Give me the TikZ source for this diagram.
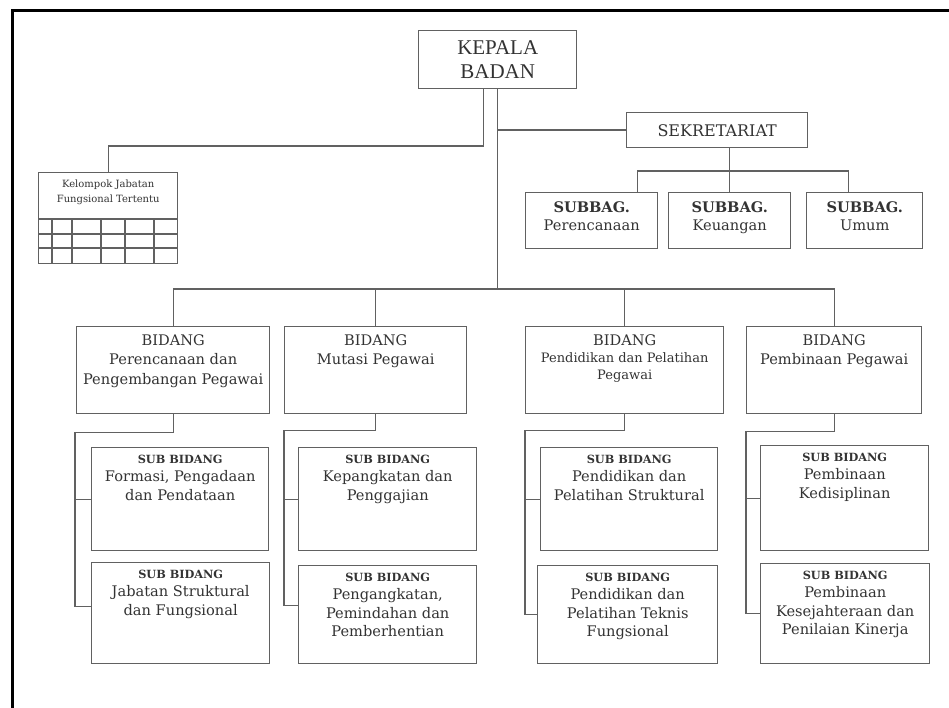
\documentclass[tikz,border=0pt]{standalone}
\usepackage{fontspec}
\newfontfamily\dv{DejaVu Serif}
\newfontfamily\lib{Liberation Serif}
\definecolor{linec}{gray}{0.38}
\definecolor{txtc}{gray}{0.2}
\tikzset{
  box/.style={draw=linec, line width=1.4pt, anchor=north west, inner sep=0pt},
  conn/.style={draw=linec, line width=1.4pt},
  txt/.style={align=center, inner sep=0pt, anchor=north, text=txtc, font=\dv\fontsize{14.6}{19.5}\selectfont},
  subtxt/.style={align=center, inner sep=0pt, anchor=north, text=txtc, font=\dv\fontsize{14.6}{18.5}\selectfont},
  sbtxt/.style={align=center, inner sep=0pt, anchor=north, text=txtc, font=\dv\fontsize{14.6}{18}\selectfont},
}
\newcommand{\hd}[1]{{\fontsize{11.3}{18.5}\selectfont\bfseries #1}}
\begin{document}
\begin{tikzpicture}[x=1pt,y=-1pt]
\useasboundingbox[fill=white] (0,0) rectangle (949,708);
% frame
\draw[line width=3pt] (12,708) -- (12,11) -- (949,11);

% Kepala Badan
\node[box, minimum width=158pt, minimum height=58pt] (kb) at (418,30) {};
\node[align=center, inner sep=0pt, text=txtc, font=\lib\fontsize{21}{24}\selectfont] (kbt) at (kb.center) {KEPALA\\BADAN};

% Sekretariat
\node[box, minimum width=181pt, minimum height=35pt] (sek) at (626,112) {};
\node[inner sep=0pt, text=txtc, font=\dv\fontsize{16}{18}\selectfont] (sekt) at (sek.center) {SEKRETARIAT};

% Subbag
\node[box, minimum width=132pt, minimum height=56pt] (sg1) at (525,192) {};
\node[box, minimum width=122pt, minimum height=56pt] (sg2) at (668,192) {};
\node[box, minimum width=116pt, minimum height=56pt] (sg3) at (806,192) {};
\node[sbtxt] (sg1t) at ([yshift=-9pt]sg1.north) {\textbf{SUBBAG.}\\Perencanaan};
\node[sbtxt] (sg2t) at ([yshift=-9pt]sg2.north) {\textbf{SUBBAG.}\\Keuangan};
\node[sbtxt] (sg3t) at ([yshift=-9pt]sg3.north) {\textbf{SUBBAG.}\\Umum};

% Kelompok Jabatan Fungsional
\node[box, minimum width=139pt, minimum height=91pt] (kel) at (38,172) {};
\node[align=center, inner sep=0pt, anchor=north, text=txtc, font=\dv\fontsize{10}{15}\selectfont] (kelt) at ([yshift=-8pt]kel.north) {Kelompok Jabatan\\Fungsional Tertentu};
\foreach \yy in {219,234,248} \draw[conn, line width=1.2pt] (38,\yy) -- (177,\yy);
\foreach \xx in {52,72,101,125,154} \draw[conn, line width=1.2pt] (\xx,219) -- (\xx,263);

% Bidang
\node[box, minimum width=193pt, minimum height=87pt] (b1) at (76,326) {};
\node[box, minimum width=182pt, minimum height=87pt] (b2) at (284,326) {};
\node[box, minimum width=198pt, minimum height=87pt] (b3) at (525,326) {};
\node[box, minimum width=175pt, minimum height=87pt] (b4) at (746,326) {};
\node[txt] (b1t) at ([yshift=-8pt]b1.north) {BIDANG\\Perencanaan dan\\Pengembangan Pegawai};
\node[txt] (b2t) at ([yshift=-8pt]b2.north) {BIDANG\\Mutasi Pegawai};
\node[txt] (b3t) at ([yshift=-8pt]b3.north) {BIDANG\\[-2pt]{\fontsize{13}{16}\selectfont Pendidikan dan Pelatihan}\\[-3pt]{\fontsize{13}{16}\selectfont Pegawai}};
\node[txt] (b4t) at ([yshift=-8pt]b4.north) {BIDANG\\Pembinaan Pegawai};

% Sub bidang
\node[box, minimum width=177pt, minimum height=103pt] (s11) at (91,447) {};
\node[box, minimum width=178pt, minimum height=101pt] (s12) at (91,562) {};
\node[box, minimum width=178pt, minimum height=103pt] (s21) at (298,447) {};
\node[box, minimum width=178pt, minimum height=98pt] (s22) at (298,565) {};
\node[box, minimum width=177pt, minimum height=103pt] (s31) at (540,447) {};
\node[box, minimum width=180pt, minimum height=98pt] (s32) at (537,565) {};
\node[box, minimum width=168pt, minimum height=105pt] (s41) at (760,445) {};
\node[box, minimum width=169pt, minimum height=100pt] (s42) at (760,563) {};

\node[subtxt] (s11t) at ([yshift=-7.5pt]s11.north) {\hd{SUB BIDANG}\\Formasi, Pengadaan\\dan Pendataan};
\node[subtxt] (s12t) at ([yshift=-7.5pt]s12.north) {\hd{SUB BIDANG}\\Jabatan Struktural\\dan Fungsional};
\node[subtxt] (s21t) at ([yshift=-7.5pt]s21.north) {\hd{SUB BIDANG}\\Kepangkatan dan\\Penggajian};
\node[subtxt] (s22t) at ([yshift=-7.5pt]s22.north) {\hd{SUB BIDANG}\\Pengangkatan,\\Pemindahan dan\\Pemberhentian};
\node[subtxt] (s31t) at ([yshift=-7.5pt]s31.north) {\hd{SUB BIDANG}\\Pendidikan dan\\Pelatihan Struktural};
\node[subtxt] (s32t) at ([yshift=-7.5pt]s32.north) {\hd{SUB BIDANG}\\Pendidikan dan\\Pelatihan Teknis\\Fungsional};
\node[subtxt] (s41t) at ([yshift=-7.5pt]s41.north) {\hd{SUB BIDANG}\\Pembinaan\\Kedisiplinan};
\node[subtxt] (s42t) at ([yshift=-7.5pt]s42.north) {\hd{SUB BIDANG}\\Pembinaan\\Kesejahteraan dan\\Penilaian Kinerja};

% connectors: top
\coordinate (bus) at (497,289);
\draw[conn] ([xshift=-14pt]kb.south) |- ([yshift=26pt]kel.north) -- (kel.north);
\draw[conn] (kb.south) -- (kb.south |- bus);
\draw[conn] (kb.south |- sek.west) -- (sek.west);
\draw[conn] (sg2.north) -- (sg2.north |- sek.south);
\coordinate (sbus) at (729,171);
\draw[conn] ([xshift=46pt]sg1.north) |- (sbus) -| ([xshift=-16pt]sg3.north);
\draw[conn] (b1.north) |- (bus) -| (b4.north);
\draw[conn] (b2.north) -- (b2.north |- bus);
\draw[conn] (b3.north) -- (b3.north |- bus);

% connectors: sub bidang
\draw[conn] (b1.south) -- ++(0,18) -| ([xshift=-16pt,yshift=7pt]s12.west) -- ([yshift=7pt]s12.west);
\draw[conn] ([xshift=-16pt]s11.west) -- (s11.west);
\draw[conn] (b2.south) -- ++(0,16) -| ([xshift=-14pt,yshift=9pt]s22.west) -- ([yshift=9pt]s22.west);
\draw[conn] ([xshift=-14pt]s21.west) -- (s21.west);
\draw[conn] (b3.south) -- ++(0,16) -| ([xshift=-12pt]s32.west) -- (s32.west);
\draw[conn] ([xshift=-15pt]s31.west) -- (s31.west);
\draw[conn] (b4.south) -- ++(0,17) -| ([xshift=-14pt]s42.west) -- (s42.west);
\draw[conn] ([xshift=-14pt]s41.west) -- (s41.west);
\end{tikzpicture}
\end{document}
